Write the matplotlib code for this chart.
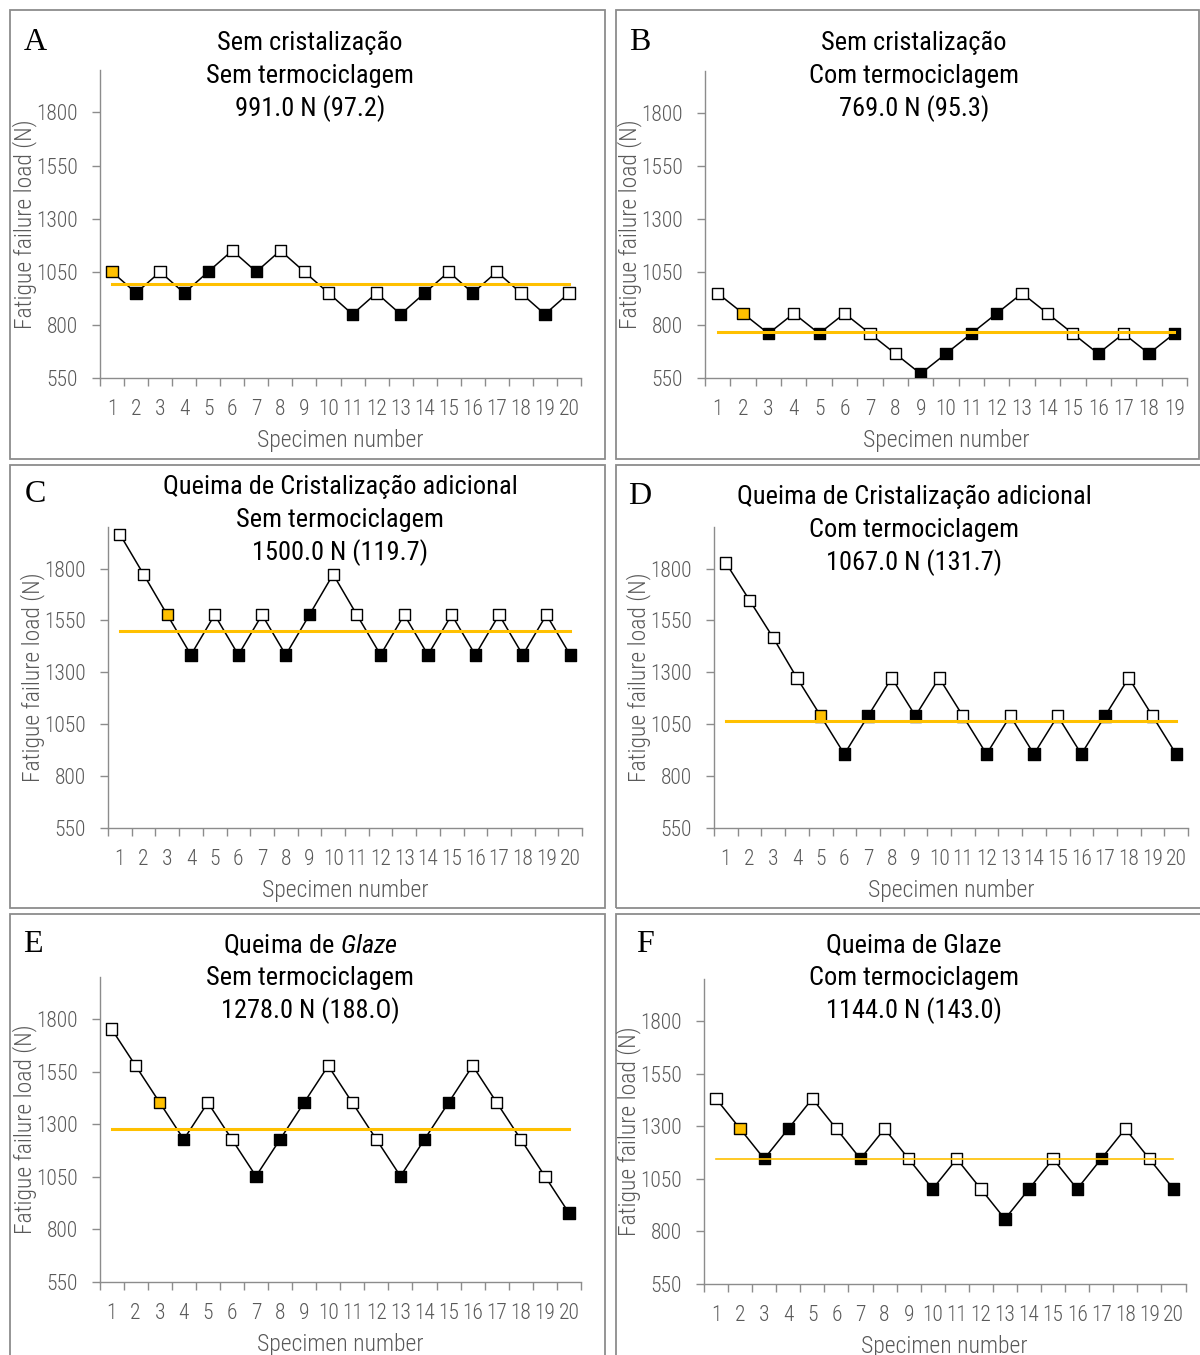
"""
Up-and-down fatigue test sequences (six groups A-F)
"""
import matplotlib.pyplot as plt
from matplotlib import font_manager
from matplotlib.patches import Rectangle

W, H = 1200, 1355

# ---- data ----
specimens_20 = list(range(1, 21))
specimens_19 = list(range(1, 20))
y_ticks = [550, 800, 1050, 1300, 1550, 1800]

load_a = [1050, 950, 1050, 950, 1050, 1150, 1050, 1150, 1050, 950,
          850, 950, 850, 950, 1050, 950, 1050, 950, 850, 950]
outcome_a = list("OBWBBWBWWWBWBBWBWWBW")
mean_a = 991.0

load_b = [950, 855, 760, 855, 760, 855, 760, 665, 570, 665,
          760, 855, 950, 855, 760, 665, 760, 665, 760]
outcome_b = list("WOBWBWWWBBBBWWWBWBB")
mean_b = 769.0

load_c = [1965, 1772, 1577, 1384, 1577, 1384, 1577, 1384, 1577, 1772,
          1577, 1384, 1577, 1384, 1577, 1384, 1577, 1384, 1577, 1384]
outcome_c = list("WWOBWBWBBWWBWBWBWBWB")
mean_c = 1500.0

load_d = [1827, 1647, 1466, 1273, 1090, 906, 1090, 1273, 1090, 1273,
          1090, 906, 1090, 906, 1090, 906, 1090, 1273, 1090, 906]
outcome_d = list("WWWWOBBWBWWBWBWBBWWB")
mean_d = 1067.0

load_e = [1753, 1578, 1403, 1228, 1403, 1228, 1053, 1228, 1403, 1578,
          1403, 1228, 1053, 1228, 1403, 1578, 1403, 1228, 1053, 878]
outcome_e = list("WWOBWWBBBWWWBBBWWWWB")
mean_e = 1278.0

load_f = [1431, 1288, 1145, 1288, 1431, 1288, 1145, 1288, 1145, 1002,
          1145, 1002, 859, 1002, 1145, 1002, 1145, 1288, 1145, 1002]
outcome_f = list("WOBBWWBWWBWWBBWBBWWB")
mean_f = 1144.0

titles_a = ["Sem cristalização", "Sem termociclagem", "991.0 N (97.2)"]
titles_b = ["Sem cristalização", "Com termociclagem", "769.0 N (95.3)"]
titles_c = ["Queima de Cristalização adicional", "Sem termociclagem", "1500.0 N (119.7)"]
titles_d = ["Queima de Cristalização adicional", "Com termociclagem", "1067.0 N (131.7)"]
titles_e = [r"Queima de $\mathit{Glaze}$", "Sem termociclagem", "1278.0 N (188.O)"]
titles_f = ["Queima de Glaze", "Com termociclagem", "1144.0 N (143.0)"]

FACE = {'W': 'white', 'B': 'black', 'O': '#FFC000'}
AXIS_GRAY = '#8c8c8c'
TEXT_GRAY = '#595959'

# pick a narrow sans if the machine has one, otherwise shrink the text a bit
names = {f.name for f in font_manager.fontManager.ttflist}
dejavu_cond = any(f.name == 'DejaVu Sans' and 'condensed' in str(f.stretch)
                  for f in font_manager.fontManager.ttflist)
FONT, STRETCH, SCALE = 'Liberation Sans', 'normal', 0.84
for cand in ['Liberation Sans Narrow', 'Roboto Condensed', 'Open Sans Condensed',
             'Noto Sans Condensed', 'Arial Narrow']:
    if cand in names:
        FONT, STRETCH, SCALE = cand, 'normal', 1.0
        break
else:
    if dejavu_cond:
        FONT, STRETCH, SCALE = 'DejaVu Sans', 'condensed', 0.88

plt.rcParams['font.family'] = [FONT, 'DejaVu Sans']
plt.rcParams['font.stretch'] = STRETCH
plt.rcParams['mathtext.fontset'] = 'custom'
plt.rcParams['mathtext.rm'] = FONT
plt.rcParams['mathtext.it'] = FONT + ':italic'

TICK_FS = 15.5 * SCALE
LABEL_FS = 17 * SCALE
TITLE_FS = 19.0 * SCALE


def fx(x):
    return x / W


def fy(y):
    return 1 - y / H


def draw_panel(fig, letter, box, axes_px, title_x, title_y, letter_xy,
               titles, x, y, outcome, mean, mean_lw=2.2):
    # panel frame
    bx0, by0, bx1, by1 = box
    fig.add_artist(Rectangle((fx(bx0), fy(by1)), (bx1 - bx0) / W, (by1 - by0) / H,
                             transform=fig.transFigure, fill=False,
                             edgecolor=AXIS_GRAY, linewidth=1.3))

    l, t, r, b = axes_px
    ax = fig.add_axes([fx(l), fy(b), (r - l) / W, (b - t) / H])
    n = len(x)

    ax.plot(x, y, color='black', linewidth=1.1, zorder=2)
    ax.scatter(x, y, marker='s', s=66, c=[FACE[o] for o in outcome],
               edgecolors='black', linewidths=1.0, zorder=3)
    ax.plot([x[0], x[-1]], [mean, mean], color='#FFC000', linewidth=mean_lw, zorder=4)

    ax.set_xlim(0.5, n + 0.5)
    ax.set_ylim(550, 2000)
    ax.set_yticks(y_ticks)
    ax.set_xticks(x)
    ax.set_xticks([i + 0.5 for i in range(n + 1)], minor=True)
    ax.tick_params(axis='x', which='major', length=0, pad=15,
                   labelsize=TICK_FS, labelcolor=TEXT_GRAY)
    ax.tick_params(axis='x', which='minor', length=5.8, width=1.0, color=AXIS_GRAY)
    ax.tick_params(axis='y', length=5.8, width=1.0, color=AXIS_GRAY, pad=10,
                   labelsize=TICK_FS, labelcolor=TEXT_GRAY)
    for lbl in ax.get_xticklabels() + ax.get_yticklabels():
        lbl.set_fontweight('light')
    for side in ['top', 'right']:
        ax.spines[side].set_visible(False)
    for side in ['left', 'bottom']:
        ax.spines[side].set_color(AXIS_GRAY)
        ax.spines[side].set_linewidth(1.0)
    ax.patch.set_alpha(0)

    # labels
    fig.text(fx((l + r) / 2), fy(b + 63), "Specimen number", ha='center', va='center',
             fontsize=LABEL_FS, color=TEXT_GRAY, fontweight='light')
    fig.text(fx(l - 75), fy((t + b) / 2), "Fatigue failure load (N)", rotation=90,
             ha='center', va='center', fontsize=LABEL_FS, color=TEXT_GRAY,
             fontweight='light')

    for i, line in enumerate(titles):
        fig.text(fx(title_x), fy(title_y + 33 * i), line, ha='center', va='center',
                 fontsize=TITLE_FS, color='black')

    fig.text(fx(letter_xy[0]), fy(letter_xy[1]), letter, ha='center', va='center',
             fontsize=23, family='Liberation Serif', color='black')
    return ax


fig = plt.figure(figsize=(W / 100, H / 100), dpi=100)

draw_panel(fig, "A", (10, 10, 605, 459), (100, 70, 581, 378), 310, 43, (35, 43),
           titles_a, specimens_20, load_a, outcome_a, mean_a)
draw_panel(fig, "B", (616, 10, 1199, 459), (705, 71, 1187, 378), 914, 43, (640, 43),
           titles_b, specimens_19, load_b, outcome_b, mean_b)
draw_panel(fig, "C", (10, 465, 605, 908), (108, 527, 582, 828), 340, 487, (35, 495),
           titles_c, specimens_20, load_c, outcome_c, mean_c)
draw_panel(fig, "D", (616, 465, 1210, 908), (714, 527, 1188, 828), 914, 497, (640, 497),
           titles_d, specimens_20, load_d, outcome_d, mean_d)
draw_panel(fig, "E", (10, 914, 605, 1370), (99.5, 977, 581, 1282), 310, 945, (33, 945),
           titles_e, specimens_20, load_e, outcome_e, mean_e)
draw_panel(fig, "F", (616, 914, 1210, 1370), (704, 979, 1185.5, 1284), 914, 945, (645, 945),
           titles_f, specimens_20, load_f, outcome_f, mean_f, mean_lw=1.2)

fig.savefig("out.png", dpi=100)
plt.close(fig)
